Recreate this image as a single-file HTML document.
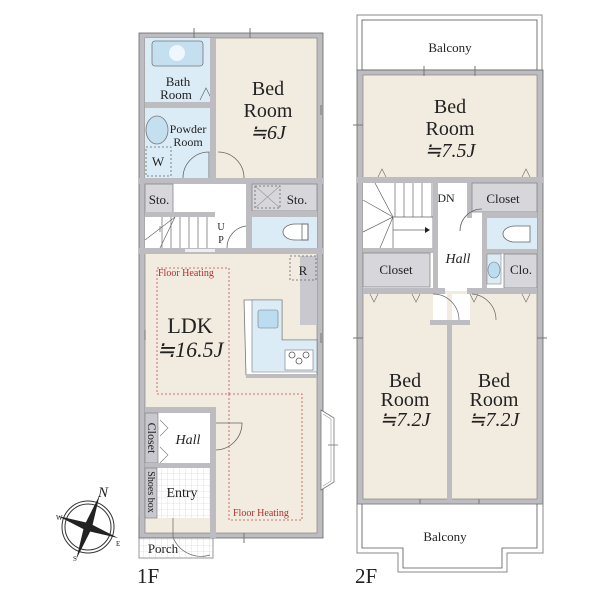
<!DOCTYPE html>
<html><head><meta charset="utf-8"><style>
html,body{margin:0;padding:0;background:#fff;width:600px;height:600px;overflow:hidden}
text{font-family:"Liberation Serif","Noto Serif CJK SC",serif;fill:#222}
</style></head><body>
<svg width="600" height="600" viewBox="0 0 600 600" xmlns="http://www.w3.org/2000/svg">
<defs>
<pattern id="grid" width="6" height="6" patternUnits="userSpaceOnUse"><rect width="6" height="6" fill="#fff"/><path d="M6 0V6M0 6H6" stroke="#ccc" stroke-width="0.6"/></pattern>
</defs>
<!-- ========== 1F ========== -->
<rect x="139" y="518" width="74" height="40" fill="url(#grid)" stroke="#999" stroke-width="1"/>
<rect x="139" y="33" width="184" height="505" fill="#bdbdc1" stroke="#666" stroke-width="0.8"/>
<rect x="145" y="38" width="172" height="495" fill="#f2ebdf" stroke="#777" stroke-width="0.6"/>
<!-- bath -->
<rect x="145" y="38" width="65" height="64" fill="#dbecf7"/>
<rect x="152" y="41" width="51" height="25" rx="3" fill="#c4dff0" stroke="#777" stroke-width="0.8"/>
<circle cx="177" cy="53" r="8" fill="#eef7fd"/>
<text x="178" y="86" font-size="13" text-anchor="middle">Bath</text>
<text x="176" y="99" font-size="13" text-anchor="middle">Room</text>
<path d="M200 100L206 88L212 100" fill="none" stroke="#666" stroke-width="0.7"/>
<rect x="145" y="102" width="65" height="6" fill="#bdbdc1"/>
<!-- powder -->
<rect x="145" y="108" width="65" height="70" fill="#dbecf7"/>
<ellipse cx="157" cy="130" rx="11" ry="14" fill="#c4dff0" stroke="#777" stroke-width="0.8"/>
<text x="188" y="133" font-size="12" text-anchor="middle">Powder</text>
<text x="188" y="146" font-size="12" text-anchor="middle">Room</text>
<rect x="146" y="147" width="25" height="29" fill="none" stroke="#666" stroke-dasharray="2,2" stroke-width="0.8"/>
<text x="158" y="166" font-size="13" text-anchor="middle">W</text>
<path d="M183 178 A26 26 0 0 1 209 152 V178" fill="none" stroke="#666" stroke-width="0.8"/>
<rect x="210" y="38" width="6" height="140" fill="#bdbdc1"/>
<!-- bed 6J -->
<text x="268" y="95" font-size="20" text-anchor="middle">Bed</text>
<text x="268" y="117" font-size="20" text-anchor="middle">Room</text>
<text x="268" y="139" font-size="20" text-anchor="middle" font-style="italic">≒6J</text>
<path d="M218 152 A26 26 0 0 1 244 178" fill="none" stroke="#666" stroke-width="0.8"/>
<!-- corridor -->
<rect x="139" y="178" width="184" height="6" fill="#bdbdc1"/>
<rect x="145" y="184" width="172" height="65" fill="#fff"/>
<rect x="145" y="184" width="28" height="29" fill="#d6d6db" stroke="#888" stroke-width="0.8"/>
<text x="159" y="204" font-size="13" text-anchor="middle">Sto.</text>
<rect x="246" y="184" width="6" height="70" fill="#bdbdc1"/>
<rect x="252" y="184" width="65" height="27" fill="#d6d6db" stroke="#888" stroke-width="0.8"/>
<rect x="255" y="186" width="25" height="22" fill="none" stroke="#666" stroke-dasharray="2,2" stroke-width="0.8"/>
<path d="M255 186L280 208M280 186L255 208" stroke="#999" stroke-width="0.6"/>
<text x="297" y="204" font-size="13" text-anchor="middle">Sto.</text>
<!-- stairs -->
<rect x="145" y="212" width="70" height="5" fill="#bdbdc1"/>
<rect x="145" y="217" width="70" height="31" fill="#fff"/>
<g stroke="#666" stroke-width="0.7">
<path d="M162 217V248M171 217V248M180 217V248M189 217V248M198 217V248M207 217V248"/>
<path d="M145 240L175 217M160 248L175 217M160 226V232"/>
</g>
<text x="221" y="230" font-size="10" text-anchor="middle">U</text>
<text x="221" y="243" font-size="10" text-anchor="middle">P</text>
<path d="M227 248 A22 22 0 0 1 246 226" fill="none" stroke="#666" stroke-width="0.8"/>
<!-- toilet 1F -->
<rect x="252" y="217" width="65" height="31" fill="#dbecf7"/>
<rect x="252" y="211" width="65" height="6" fill="#bdbdc1"/>
<path d="M308 224H295 A12 8 0 0 0 295 240H308Z" fill="#fff" stroke="#666" stroke-width="0.8"/>
<rect x="302" y="224" width="6" height="16" fill="none" stroke="#666" stroke-width="0.8"/>
<rect x="139" y="248" width="184" height="6" fill="#bdbdc1"/>
<rect x="185" y="249" width="30" height="3" fill="#eee"/>
<!-- LDK -->
<rect x="300" y="256" width="17" height="69" fill="#c8c8ce"/>
<rect x="290" y="256" width="26" height="24" fill="none" stroke="#666" stroke-dasharray="2,2" stroke-width="0.8"/>
<text x="303" y="275" font-size="13" text-anchor="middle">R</text>
<path d="M244 300H282V340H317V375H246Z" fill="#fff" stroke="#777" stroke-width="0.8"/>
<path d="M252 300H282V340H317V372H252Z" fill="#dbecf7" stroke="#777" stroke-width="0.6"/>
<rect x="258" y="310" width="20" height="18" rx="2" fill="#bcdcf0" stroke="#777" stroke-width="0.6"/>
<rect x="285" y="350" width="28" height="20" fill="#fff" stroke="#777" stroke-width="0.6"/>
<circle cx="292" cy="355" r="3" fill="none" stroke="#555" stroke-width="0.8"/><circle cx="306" cy="355" r="3" fill="none" stroke="#555" stroke-width="0.8"/><circle cx="299" cy="361" r="3" fill="none" stroke="#555" stroke-width="0.8"/>
<rect x="246" y="374" width="71" height="4" fill="#bdbdc1"/>
<text x="190" y="333" font-size="22" text-anchor="middle">LDK</text>
<text x="190" y="357" font-size="22" text-anchor="middle" font-style="italic">≒16.5J</text>
<g fill="none" stroke="#c0504d" stroke-width="0.8" stroke-dasharray="2,2">
<rect x="157" y="268" width="72" height="126"/>
<rect x="229" y="394" width="73" height="126"/>
</g>
<text x="158" y="276" font-size="10" style="fill:#b03030">Floor Heating</text>
<text x="233" y="516" font-size="10" style="fill:#b03030">Floor Heating</text>
<!-- hall/closet/entry -->
<rect x="145" y="407" width="70" height="6" fill="#bdbdc1"/>
<rect x="210" y="407" width="6" height="131" fill="#bdbdc1"/>
<rect x="145" y="413" width="65" height="50" fill="#fff"/>
<rect x="145" y="413" width="13" height="50" fill="#c8c8ce" stroke="#777" stroke-width="0.6"/>
<text transform="translate(148,438) rotate(90)" font-size="12" text-anchor="middle">Closet</text>
<path d="M160 420L168 428L160 436M160 447L168 455L160 463" fill="none" stroke="#777" stroke-width="0.6"/>
<text x="188" y="444" font-size="14" text-anchor="middle" font-style="italic">Hall</text>
<path d="M216 450 A27 27 0 0 0 242 423H216" fill="none" stroke="#666" stroke-width="0.8"/>
<rect x="145" y="463" width="65" height="5" fill="#bdbdc1"/>
<rect x="145" y="468" width="65" height="50" fill="url(#grid)"/>
<rect x="145" y="468" width="12" height="50" fill="#c8c8ce" stroke="#777" stroke-width="0.6"/>
<text transform="translate(148,492) rotate(90)" font-size="10" text-anchor="middle">Shoes box</text>
<text x="182" y="497" font-size="14" text-anchor="middle">Entry</text>
<path d="M173 518V537M173 537 A30 30 0 0 0 210 555" fill="none" stroke="#666" stroke-width="0.7"/>
<text x="163" y="553" font-size="13" text-anchor="middle">Porch</text>
<!-- bay window -->
<path d="M321 410L334 418V482L321 490Z" fill="#fff" stroke="#777" stroke-width="0.8"/>
<path d="M323 414L331 419V481L323 486" fill="none" stroke="#999" stroke-width="0.6"/>
<path d="M328 445H338" stroke="#777" stroke-width="0.8"/>
<g stroke="#777" stroke-width="1">
<path d="M194 28V38M250 28V38M321 105V115M145 330V340M321 333V343M244 533V543"/>
</g>
<text x="137" y="583" font-size="21">1F</text>
<!-- compass -->
<g transform="translate(88,527)">
<circle r="26" fill="none" stroke="#333" stroke-width="1"/>
<circle r="23" fill="none" stroke="#333" stroke-width="1"/>
<g transform="rotate(20)">
<path d="M0 -34L4 0L0 34L-4 0Z" fill="#222"/>
<path d="M-32 0L0 -4L32 0L0 4Z" fill="#222"/>
</g>
<text x="10" y="-30" font-size="15" font-style="italic">N</text>
<text x="-32" y="-7" font-size="7">W</text>
<text x="28" y="19" font-size="7">E</text>
<text x="-15" y="34" font-size="7">S</text>
</g>
<!-- ========== 2F ========== -->
<rect x="357" y="15" width="185" height="56" fill="#fff" stroke="#888" stroke-width="1"/>
<rect x="362" y="20" width="175" height="50" fill="none" stroke="#555" stroke-width="0.8"/>
<text x="450" y="52" font-size="13" text-anchor="middle">Balcony</text>
<rect x="357" y="70" width="186" height="434" fill="#bdbdc1" stroke="#666" stroke-width="0.8"/>
<rect x="363" y="75" width="174" height="424" fill="#f2ebdf" stroke="#777" stroke-width="0.6"/>
<text x="450" y="113" font-size="20" text-anchor="middle">Bed</text>
<text x="450" y="135" font-size="20" text-anchor="middle">Room</text>
<text x="450" y="157" font-size="20" text-anchor="middle" font-style="italic">≒7.5J</text>
<rect x="357" y="177" width="186" height="6" fill="#bdbdc1"/>
<rect x="363" y="183" width="174" height="108" fill="#fff"/>
<g stroke="#666" stroke-width="0.7" fill="none">
<path d="M395 183V217M404 183V217M413 183V217M422 183V217M432 183V217"/>
<path d="M393 217H433V248M393 217V248M363 200L393 217M375 183L393 217M363 232L393 217M380 248L393 217"/>
<path d="M393 230H425"/>
</g>
<path d="M425 227L430 230L425 233Z" fill="#222"/>
<text x="446" y="202" font-size="12" text-anchor="middle">DN</text>
<rect x="433" y="183" width="5" height="120" fill="#bdbdc1"/>
<rect x="467" y="183" width="5" height="35" fill="#bdbdc1"/>
<rect x="472" y="183" width="65" height="29" fill="#d6d6db" stroke="#888" stroke-width="0.8"/>
<text x="503" y="203" font-size="13" text-anchor="middle">Closet</text>
<rect x="484" y="212" width="53" height="6" fill="#bdbdc1"/>
<rect x="484" y="218" width="53" height="31" fill="#dbecf7"/>
<rect x="482" y="212" width="5" height="80" fill="#bdbdc1"/>
<path d="M530 226H515 A12 8 0 0 0 515 242H530Z" fill="#fff" stroke="#666" stroke-width="0.8"/>
<path d="M460 231 A22 22 0 0 1 482 209" fill="none" stroke="#666" stroke-width="0.8"/>
<rect x="484" y="249" width="53" height="5" fill="#bdbdc1"/>
<rect x="487" y="254" width="14" height="30" fill="#dbecf7" stroke="#888" stroke-width="0.6"/>
<ellipse cx="494" cy="270" rx="6" ry="8" fill="#bcdcf0" stroke="#777" stroke-width="0.6"/>
<rect x="504" y="254" width="33" height="34" fill="#d6d6db" stroke="#888" stroke-width="0.8"/>
<text x="521" y="274" font-size="13" text-anchor="middle">Clo.</text>
<text x="458" y="263" font-size="14" text-anchor="middle" font-style="italic">Hall</text>
<rect x="363" y="248" width="70" height="5" fill="#bdbdc1"/>
<rect x="363" y="253" width="67" height="34" fill="#d6d6db" stroke="#888" stroke-width="0.8"/>
<text x="396" y="274" font-size="13" text-anchor="middle">Closet</text>
<rect x="363" y="288" width="82" height="6" fill="#bdbdc1"/>
<rect x="467" y="288" width="70" height="6" fill="#bdbdc1"/>
<rect x="430" y="320" width="40" height="5" fill="#bdbdc1"/>
<rect x="447" y="320" width="5" height="180" fill="#bdbdc1"/>
<rect x="433" y="294" width="14" height="26" fill="#fff"/>
<rect x="452" y="294" width="18" height="26" fill="#fff"/>
<path d="M433 294 A26 26 0 0 1 459 320M472 294 A26 26 0 0 1 496 320" fill="none" stroke="#666" stroke-width="0.7"/>
<text x="405" y="387" font-size="20" text-anchor="middle">Bed</text>
<text x="405" y="406" font-size="20" text-anchor="middle">Room</text>
<text x="405" y="426" font-size="20" text-anchor="middle" font-style="italic">≒7.2J</text>
<text x="494" y="387" font-size="20" text-anchor="middle">Bed</text>
<text x="494" y="406" font-size="20" text-anchor="middle">Room</text>
<text x="494" y="426" font-size="20" text-anchor="middle" font-style="italic">≒7.2J</text>
<g stroke="#777" stroke-width="0.7" fill="none">
<path d="M370 294L374 302L378 294M412 294L416 302L420 294M470 294L474 302L478 294M522 294L526 302L530 294M378 177L382 169L386 177M522 177L526 169L530 177"/>
</g>
<g stroke="#777" stroke-width="1">
<path d="M424 66V76M475 66V76M353 125H363M537 338H547M353 338H363M420 499V509M479 499V509"/>
</g>
<path d="M357 504H543V553H507V572H398V553H357Z" fill="#fff" stroke="#888" stroke-width="1"/>
<path d="M362 504V548H403V568H502V548H537V504" fill="none" stroke="#555" stroke-width="0.8"/>
<text x="445" y="541" font-size="13" text-anchor="middle">Balcony</text>
<text x="355" y="583" font-size="21">2F</text>
</svg>
</body></html>
